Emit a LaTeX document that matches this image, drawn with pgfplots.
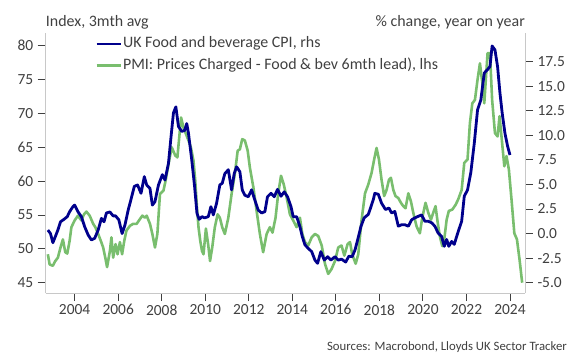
\documentclass[border=0pt]{standalone}
\usepackage{pgfplots}
\pgfplotsset{compat=1.18}
\usepackage{fontspec}
\setmainfont{Carlito}
\definecolor{cpiblue}{RGB}{0,0,140}
\definecolor{pmigreen}{RGB}{121,190,110}
\definecolor{txtgrey}{RGB}{64,64,64}
\definecolor{axgrey}{RGB}{200,200,200}
\begin{document}
\begin{tikzpicture}
\path[use as bounding box] (-45.7bp,-66bp) rectangle (539.3bp,293bp);
\pgfplotsset{
  common/.style={
    scale only axis, width=479.3bp, height=259.8bp,
    at={(0,0)}, anchor=south west,
    xmin=2002.67, xmax=2024.69,
    axis line style={draw=axgrey, line width=1bp},
    tick style={draw=txtgrey, line width=0.9bp},
    tick align=outside, major tick length=8bp,
    minor tick num=0,
    ticklabel style={font=\fontsize{15.5}{18}\selectfont, text=txtgrey},
    /pgf/number format/assume math mode=true,
    clip=false,
  }
}
\begin{axis}[common, name=main,
  axis x line*=bottom, axis y line*=left,
  ymin=43.48, ymax=81.85,
  ytick={45,50,55,60,65,70,75,80},
  xtick={2004,2006,2008,2010,2012,2014,2016,2018,2020,2022,2024},
  xticklabel style={/pgf/number format/1000 sep={}, /pgf/number format/fixed},
  yticklabel style={xshift=-1bp},
]
\addplot[pmigreen, line width=2.6bp, line join=round] coordinates {
(2002.77,49.2) (2002.85,47.7) (2003.00,47.5) (2003.11,48.2) (2003.23,48.7) (2003.35,50.2)
(2003.46,51.4) (2003.57,49.5) (2003.66,49.3) (2003.77,51.2) (2003.85,53.2) (2004.00,54.2)
(2004.15,54.9) (2004.31,54.2) (2004.43,55.1) (2004.54,55.5) (2004.69,54.9) (2004.85,53.7)
(2004.95,53.2) (2005.08,52.2) (2005.20,51.2) (2005.31,50.2) (2005.42,48.5) (2005.49,47.3)
(2005.62,49.7) (2005.69,51.7) (2005.77,48.7) (2005.88,50.7) (2005.97,49.2) (2006.08,51.0)
(2006.18,49.2) (2006.28,51.2) (2006.38,52.7) (2006.54,53.4) (2006.69,53.7) (2006.85,53.7)
(2007.00,54.4) (2007.11,54.9) (2007.23,54.6) (2007.31,54.9) (2007.46,53.7) (2007.57,52.2)
(2007.69,50.2) (2007.80,52.2) (2007.92,58.1) (2008.08,58.6) (2008.18,60.1) (2008.34,63.0)
(2008.46,65.0) (2008.62,63.8) (2008.72,63.5) (2008.82,67.0) (2008.89,69.4) (2009.00,67.9)
(2009.11,67.0) (2009.23,66.0) (2009.34,65.0) (2009.46,63.0) (2009.54,60.1) (2009.62,56.1)
(2009.69,53.2) (2009.77,51.2) (2009.85,49.7) (2009.92,49.2) (2010.03,53.0) (2010.14,50.5)
(2010.22,48.2) (2010.32,50.2) (2010.44,53.2) (2010.57,55.1) (2010.67,54.6) (2010.78,53.2)
(2010.90,52.2) (2011.06,54.6) (2011.21,58.1) (2011.36,61.1) (2011.49,64.5) (2011.59,64.7)
(2011.70,66.2) (2011.82,66.0) (2011.95,64.5) (2012.05,62.0) (2012.21,59.1) (2012.36,55.6)
(2012.51,52.2) (2012.66,49.5) (2012.82,52.2) (2012.97,53.2) (2013.09,52.4) (2013.23,54.6)
(2013.35,58.1) (2013.48,60.8) (2013.60,59.6) (2013.74,57.6) (2013.89,55.1) (2014.04,54.2)
(2014.20,53.2) (2014.35,54.6) (2014.46,52.2) (2014.58,51.0) (2014.73,50.5) (2014.89,51.7)
(2015.04,52.2) (2015.19,51.9) (2015.35,50.5) (2015.50,47.8) (2015.65,46.3) (2015.80,47.0)
(2015.96,48.2) (2016.11,50.2) (2016.26,50.5) (2016.39,49.0) (2016.54,50.7) (2016.65,51.0)
(2016.75,49.2) (2016.91,47.8) (2017.03,49.2) (2017.18,54.2) (2017.34,58.2) (2017.49,59.5)
(2017.64,61.2) (2017.76,63.2) (2017.87,64.9) (2017.98,63.2) (2018.10,60.2) (2018.22,57.8)
(2018.33,58.7) (2018.44,60.2) (2018.53,60.5) (2018.64,58.7) (2018.74,57.8) (2018.87,57.5)
(2018.99,56.8) (2019.10,56.3) (2019.20,56.0) (2019.33,58.2) (2019.45,57.0) (2019.56,55.3)
(2019.71,53.3) (2019.86,52.3) (2019.97,54.6) (2020.12,56.8) (2020.25,55.3) (2020.37,54.3)
(2020.47,55.3) (2020.58,56.3) (2020.67,54.1) (2020.78,51.8) (2020.89,50.4) (2020.98,51.4)
(2021.09,54.3) (2021.19,55.6) (2021.35,55.8) (2021.50,56.5) (2021.62,57.3) (2021.78,58.7)
(2021.90,62.7) (2022.05,63.2) (2022.16,68.6) (2022.27,71.5) (2022.39,72.0) (2022.51,75.0)
(2022.62,77.4) (2022.73,74.5) (2022.82,71.5) (2022.88,74.5) (2022.97,78.9) (2023.08,78.9)
(2023.18,72.0) (2023.31,67.1) (2023.43,66.6) (2023.52,69.6) (2023.64,65.6) (2023.74,62.2)
(2023.84,63.7) (2023.95,61.7) (2024.07,57.3) (2024.20,52.3) (2024.32,51.4) (2024.44,48.4)
(2024.56,45.0)
};
\end{axis}
\begin{axis}[common,
  axis x line=none, axis y line*=right,
  ymin=-6.05, ymax=20.40,
  ytick={-5,-2.5,0,2.5,5,7.5,10,12.5,15,17.5},
  yticklabel style={/pgf/number format/fixed, /pgf/number format/fixed zerofill, /pgf/number format/precision=1, xshift=1bp},
  legend style={at={(axis description cs:0.1029,0.99)}, anchor=north west, draw=none, fill=none,
    inner sep=0pt, row sep=5.7bp,
    nodes={inner sep=1bp, text height=11bp, text depth=3bp, text=txtgrey},
    font=\fontsize{16}{19}\selectfont},
  legend cell align=left,
  legend image code/.code={\draw[#1] (0bp,0bp) -- (24bp,0bp);},
]
\addplot[cpiblue, line width=2.8bp, line join=round] coordinates {
(2002.77,0.36) (2002.89,0.0) (2003.00,-0.93) (2003.11,-0.32) (2003.23,0.36) (2003.35,1.2)
(2003.51,1.45) (2003.66,1.72) (2003.77,2.23) (2003.92,2.74) (2004.00,2.9) (2004.15,2.23)
(2004.31,1.72) (2004.46,0.7) (2004.62,-0.14) (2004.77,-0.65) (2004.92,-0.48) (2005.08,0.36)
(2005.23,1.55) (2005.35,1.2) (2005.46,2.1) (2005.62,2.2) (2005.77,1.8) (2005.88,1.8)
(2006.03,1.4) (2006.18,0.0) (2006.31,0.86) (2006.46,2.4) (2006.58,3.4) (2006.74,4.8)
(2006.89,4.95) (2007.05,4.1) (2007.20,5.8) (2007.31,4.95) (2007.46,4.6) (2007.57,2.9)
(2007.69,3.25) (2007.85,4.95) (2008.03,6.0) (2008.15,5.45) (2008.31,7.15) (2008.43,9.9)
(2008.54,12.3) (2008.65,12.9) (2008.77,10.9) (2008.92,10.4) (2009.05,10.5) (2009.15,11.2)
(2009.23,10.2) (2009.38,7.5) (2009.51,4.8) (2009.62,2.06) (2009.72,1.45) (2009.85,1.72)
(2009.97,1.6) (2010.14,1.72) (2010.26,2.74) (2010.37,1.9) (2010.52,3.08) (2010.67,4.95)
(2010.78,5.12) (2010.90,6.1) (2011.06,6.5) (2011.21,4.45) (2011.33,6.1) (2011.44,6.8)
(2011.59,6.3) (2011.70,4.45) (2011.82,3.9) (2011.98,3.75) (2012.13,4.45) (2012.28,3.4)
(2012.43,2.4) (2012.59,2.1) (2012.74,2.23) (2012.86,3.75) (2013.02,4.1) (2013.17,3.75)
(2013.32,4.5) (2013.48,3.8) (2013.63,4.25) (2013.78,3.75) (2013.94,2.74) (2014.04,1.72)
(2014.20,1.72) (2014.35,0.7) (2014.46,-0.32) (2014.58,-1.15) (2014.73,-1.5) (2014.89,-1.84)
(2015.04,-2.7) (2015.16,-3.03) (2015.31,-1.84) (2015.47,-2.7) (2015.62,-2.35) (2015.77,-2.7)
(2015.96,-2.35) (2016.11,-2.7) (2016.26,-2.6) (2016.45,-2.9) (2016.60,-2.3) (2016.75,-2.35)
(2016.88,-1.67) (2017.00,-0.65) (2017.15,0.7) (2017.30,1.6) (2017.49,1.95) (2017.57,2.45)
(2017.72,3.45) (2017.79,4.1) (2017.95,4.0) (2018.10,3.1) (2018.28,2.45) (2018.44,2.6)
(2018.56,2.1) (2018.71,2.25) (2018.87,0.75) (2019.02,0.9) (2019.17,0.9) (2019.33,0.75)
(2019.48,1.4) (2019.63,1.6) (2019.78,1.75) (2019.94,1.9) (2020.09,1.25) (2020.25,1.25)
(2020.40,1.1) (2020.55,0.75) (2020.70,0.05) (2020.86,-0.3) (2020.98,-1.3) (2021.09,-0.6)
(2021.19,-1.3) (2021.32,-0.8) (2021.44,-1.1) (2021.55,-0.3) (2021.65,0.4) (2021.78,1.25)
(2021.90,3.8) (2022.05,4.45) (2022.20,6.2) (2022.36,9.2) (2022.51,12.6) (2022.66,13.6)
(2022.82,16.35) (2022.97,16.7) (2023.08,17.0) (2023.18,19.1) (2023.31,18.7) (2023.43,17.0)
(2023.54,14.3) (2023.64,12.3) (2023.77,10.2) (2023.89,8.9) (2024.00,8.0)
};
\addlegendentry{UK Food and beverage CPI, rhs}
\addlegendimage{pmigreen, line width=2.6bp}
\addlegendentry{PMI: Prices Charged - Food \& bev 6mth lead), lhs}
\end{axis}
\node[anchor=base west, inner sep=0pt, text=txtgrey, font=\fontsize{16}{19}\selectfont] at ([yshift=6.5bp]main.north west) {Index, 3mth avg};
\node[anchor=base east, inner sep=0pt, text=txtgrey, font=\fontsize{16}{19}\selectfont] at ([yshift=6.5bp]main.north east) {\% change, year on year};
\node[anchor=base east, inner sep=0pt, text=txtgrey, font=\fontsize{12.8}{15}\selectfont] at ([xshift=42bp,yshift=-57bp]main.south east) {Sources: Macrobond, Lloyds UK Sector Tracker};
\end{tikzpicture}
\end{document}
